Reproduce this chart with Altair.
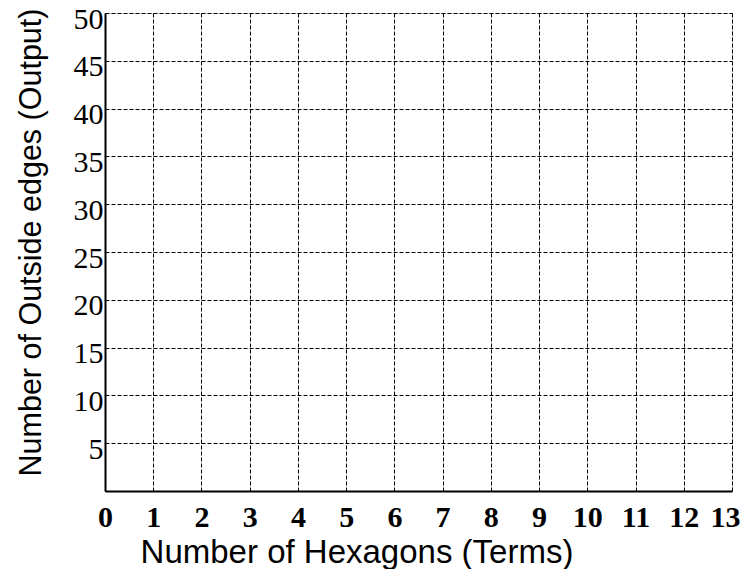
import altair as alt
import pandas as pd

x_ticks = list(range(0, 14))
y_ticks = [5, 10, 15, 20, 25, 30, 35, 40, 45, 50]
x_title = "Number of Hexagons (Terms)"
y_title = "Number of Outside edges (Output)"

df = pd.DataFrame({"x": [0, 13], "y": [0, 50]})

chart = alt.Chart(df).mark_point(opacity=0).encode(
    x=alt.X("x:Q",
            scale=alt.Scale(domain=[0, 13], nice=False, zero=False),
            axis=alt.Axis(values=x_ticks, title=x_title, format="d",
                          grid=True, gridColor="black", gridDash=[4, 2], gridWidth=1,
                          ticks=False, tickSize=0,
                          domainColor="black", domainWidth=2,
                          labelFont="Liberation Serif", labelFontSize=30,
                          labelFontWeight="bold", labelColor="black",
                          labelPadding=11, labelFlush=False, labelOverlap=False,
                          labelOffset={"expr": "datum.value == 13 ? -7 : 0"},
                          titleFont="Liberation Sans",
                          titleFontSize=33, titleFontWeight="normal", titleColor="black",
                          titleX=251.5, titleY=71, titleBaseline="alphabetic",
                          titleAlign="center")),
    y=alt.Y("y:Q",
            scale=alt.Scale(domain=[0, 50], nice=False, zero=False),
            axis=alt.Axis(values=y_ticks, title=y_title, format="d",
                          grid=True, gridColor="black", gridDash=[4, 2], gridWidth=1,
                          ticks=False, tickSize=0,
                          domainColor="black", domainWidth=2,
                          labelFont="Liberation Serif", labelFontSize=30,
                          labelFontWeight="normal", labelColor="black",
                          labelPadding=2, labelOffset=6, labelFlush=False,
                          labelOverlap=False,
                          titleFont="Liberation Sans",
                          titleFontSize=30.5, titleFontWeight="normal", titleColor="black",
                          titleAngle=270, titleX=-65, titleY=229,
                          titleBaseline="alphabetic", titleAlign="center")),
).properties(
    width=627, height=478,
    autosize=alt.AutoSizeParams(type="none"),
    padding={"left": 97, "top": 5, "right": 9, "bottom": 78},
).configure_view(stroke="black", strokeWidth=2).configure(background="white")

chart.save("out.html", embed_options={"renderer": "svg", "actions": False})
